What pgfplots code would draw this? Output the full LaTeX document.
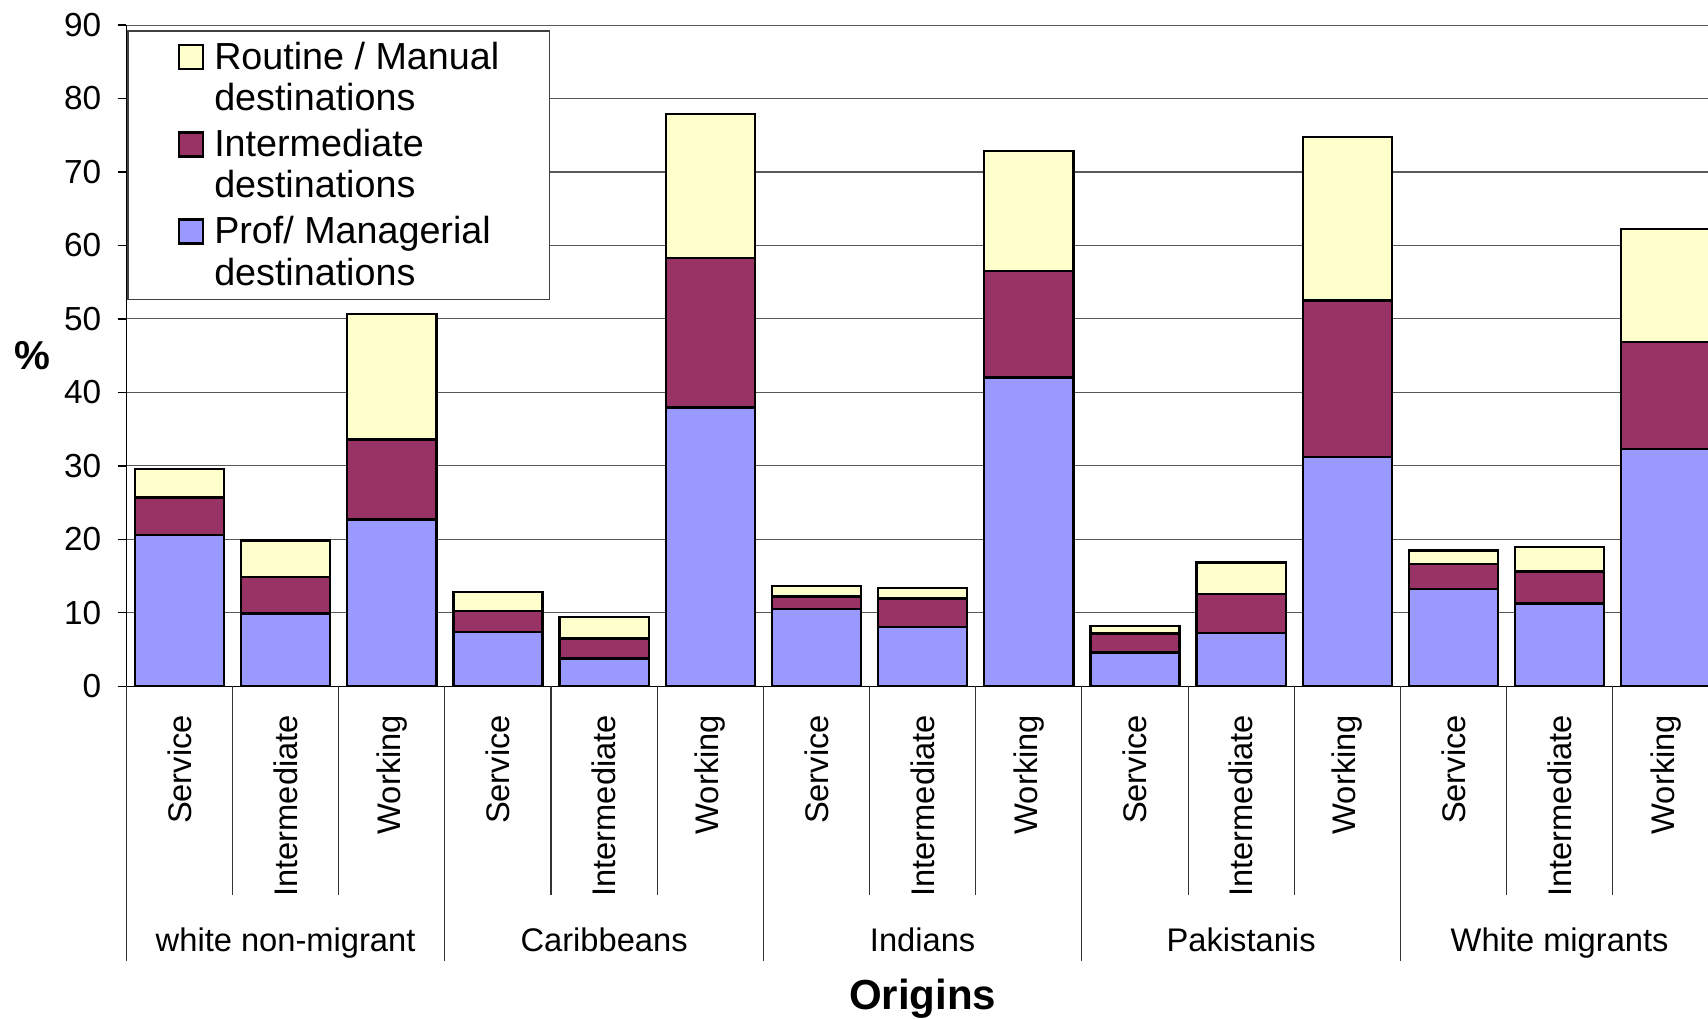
\documentclass[border=0pt]{standalone}
\usepackage{fontspec}
\setmainfont{Liberation Sans}
\usepackage{pgfplots}
\usepackage{pgfplotstable}
\pgfplotsset{compat=1.18}

\definecolor{profblue}{HTML}{9999FF}
\definecolor{intermaroon}{HTML}{993366}
\definecolor{routineyellow}{HTML}{FFFFCC}

% origins x destinations, stacked in %
\pgfplotstableread{
x  prof   inter  routine
0  20.6   5.1    3.88
1  9.9    4.98   4.95
2  22.7   10.88  17.06
3  7.35   2.9    2.55
4  3.77   2.72   2.9
5  37.96  20.36  19.55
6  10.55  1.67   1.4
7  8.08   3.87   1.46
8  42.0   14.49  16.37
9  4.58   2.58   1.08
10 7.23   5.35   4.25
11 31.2   21.29  22.24
12 13.2   3.45   1.82
13 11.24  4.37   3.35
14 32.3   14.54  15.43
}\mobility

\begin{document}
\begin{tikzpicture}
% the original chart is cut off at its right edge
\useasboundingbox (-58pt,-152.5pt) rectangle (726pt,315pt);
\begin{axis}[
	at={(0,0)}, anchor=south west,
	scale only axis,
	width=731pt,
	height=303.5pt,
	ybar stacked,
	bar width=0.84,
	xmin=-0.5, xmax=14.5,
	ymin=0, ymax=90,
	enlargelimits=false,
	clip=false,
	axis lines=left,
	axis line style={-, line width=0.6pt},
	ytick={0,10,...,90},
	tick align=outside,
	major tick length=4pt,
	tick style={black, line width=0.6pt},
	xtick={0,...,14},
	xtick style={draw=none},
	xticklabels={Service,Intermediate,Working,Service,Intermediate,Working,Service,Intermediate,Working,Service,Intermediate,Working,Service,Intermediate,Working},
	xticklabel style={rotate=90, anchor=east, inner sep=0pt, font=\fontsize{15}{18}\selectfont},
	xticklabel shift=9pt,
	yticklabel style={font=\fontsize{15.3}{18}\selectfont},
	yticklabel shift=4pt,
	/pgf/number format/assume math mode=true,
	ymajorgrids,
	grid style={black!65, line width=0.5pt},
	ylabel={\textbf{\%}},
	ylabel style={rotate=-90, at={(axis description cs:-0.0588,0.5)}, anchor=center, font=\fontsize{18.5}{20}\selectfont},
	xlabel={\textbf{Origins}},
	xlabel style={at={(axis description cs:0.5,-0.4728)}, anchor=center, font=\fontsize{19.3}{22}\selectfont},
	reverse legend,
	legend style={at={(0,1)}, anchor=north west, xshift=0.5pt, yshift=-2.5pt,
		draw=black!75, line width=0.5pt, fill=white,
		font=\fontsize{17.3}{19}\selectfont,
		inner xsep=23pt, inner ysep=5pt,
		nodes={inner sep=0pt},
		row sep=7pt,
		/tikz/every odd column/.append style={column sep=4.5pt}},
	legend cell align=left,
	legend image code/.code={\draw[#1] (0pt,4pt) rectangle (11pt,15pt); \path (0pt,-15pt) (11pt,15pt);},
	every axis plot/.append style={draw=black, line width=1.1pt},
]
	\addplot[fill=profblue] table[x=x, y=prof] {\mobility};
	\addlegendentry[align=left]{Prof/ Managerial\\destinations}
	\addplot[fill=intermaroon] table[x=x, y=inter] {\mobility};
	\addlegendentry[align=left]{Intermediate\\destinations}
	\addplot[fill=routineyellow] table[x=x, y=routine] {\mobility};
	\addlegendentry[align=left]{Routine / Manual\\destinations}

	% separators of the two-level category axis
	\pgfplotsinvokeforeach{0.5,1.5,3.5,4.5,6.5,7.5,9.5,10.5,12.5,13.5}{
		\draw[black!80, line width=0.5pt] (axis cs:#1,0) -- ++(0pt,-96pt);
	}
	\pgfplotsinvokeforeach{-0.5,2.5,5.5,8.5,11.5,14.5}{
		\draw[black!80, line width=0.5pt] (axis cs:#1,0) -- ++(0pt,-126pt);
	}
	\node[font=\fontsize{15}{18}\selectfont, anchor=base, yshift=-121.8pt] at (axis cs:1,0) {white non-migrant};
	\node[font=\fontsize{15}{18}\selectfont, anchor=base, yshift=-121.8pt] at (axis cs:4,0) {Caribbeans};
	\node[font=\fontsize{15}{18}\selectfont, anchor=base, yshift=-121.8pt] at (axis cs:7,0) {Indians};
	\node[font=\fontsize{15}{18}\selectfont, anchor=base, yshift=-121.8pt] at (axis cs:10,0) {Pakistanis};
	\node[font=\fontsize{15}{18}\selectfont, anchor=base, yshift=-121.8pt] at (axis cs:13,0) {White migrants};
\end{axis}
\end{tikzpicture}
\end{document}
